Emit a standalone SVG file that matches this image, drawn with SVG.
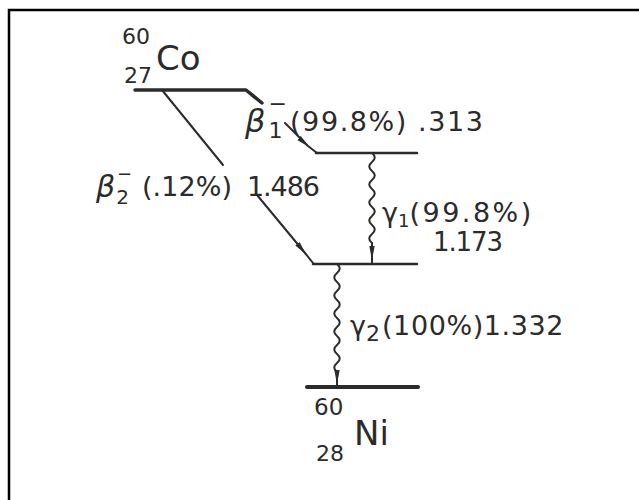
<svg xmlns="http://www.w3.org/2000/svg" width="639" height="500" viewBox="0 0 639 500">
<style>
.t{font-family:"DejaVu Sans","Liberation Sans",sans-serif;fill:#2b2b2b}
.b{font-style:italic}
.lvl{stroke:#2b2b2b;fill:none;stroke-linecap:round;stroke-linejoin:round}
.c{stroke:#2b2b2b;fill:none;stroke-width:2;stroke-linecap:round;stroke-linejoin:round}
</style>
<defs>
<marker id="ah" markerUnits="userSpaceOnUse" viewBox="0 0 14 7" refX="12" refY="3.5" markerWidth="14" markerHeight="7" orient="auto">
<path d="M0,0.8 L14,3.5 L0,6.2 z" fill="#2b2b2b"/>
</marker>
</defs>
<rect width="639" height="500" fill="#fff"/>
<path d="M9,500 L9,10 L639,10" stroke="#000" stroke-width="2.5" fill="none"/>

<g id="co60">
<path class="lvl" d="M135,90 L246,90 L262,103" stroke-width="3.5"/>
<text class="t" x="122" y="44" font-size="22">60</text>
<text class="t" x="156" y="70" font-size="34">Co</text>
<text class="t" x="124" y="83" font-size="22">27</text>
</g>

<g id="level1">
<path class="lvl" d="M316,153 L417,153" stroke-width="2.5"/>
</g>

<g id="level2">
<path class="lvl" d="M313,264 L417,264" stroke-width="2.5"/>
</g>

<g id="ni60">
<path class="lvl" d="M307,387 L418,387" stroke-width="4"/>
<text class="t" x="314" y="415" font-size="23">60</text>
<text class="t" x="354" y="445" font-size="34">Ni</text>
<text class="t" x="316" y="461" font-size="22">28</text>
</g>

<g id="connectors">
<g id="beta1">
<path class="c" d="M285,123 L308,146 L317,153" stroke-width="3" marker-mid="url(#ah)"/>
<text class="t" x="245" y="132" font-size="32"><tspan class="b">β</tspan><tspan font-size="22" dx="3" dy="6">1</tspan><tspan font-size="22" dx="-14" dy="-27">−</tspan></text>
<text class="t" x="290" y="131" font-size="27" textLength="193" lengthAdjust="spacing">(99.8%) .313</text>
</g>
<g id="beta2">
<path class="c" d="M162,90 L223,165"/>
<path class="c" d="M257,195 L305,253 L313,263" marker-mid="url(#ah)"/>
<text class="t" x="96" y="197" font-size="30"><tspan class="b">β</tspan><tspan font-size="20" dx="1" dy="7">2</tspan><tspan font-size="18" dx="-12" dy="-24">−</tspan></text>
<text class="t" x="142" y="196" font-size="27" textLength="90" lengthAdjust="spacing">(.12%)</text>
<text class="t" x="247" y="196" font-size="27" textLength="73" lengthAdjust="spacing">1.486</text>
</g>
<g id="gamma1">
<path class="c" d="M372,153 q5.5,4.5 0,9 t0,9 t0,9 t0,9 t0,9 t0,9 t0,9 t0,9 t0,9 t0,9"/>
<path class="c" d="M372,243 L372,258 L372,264" marker-mid="url(#ah)"/>
<text class="t" x="382" y="222" font-size="27">γ<tspan font-size="18" dy="5">1</tspan><tspan dy="-5" letter-spacing="2.5">(99.8%)</tspan></text>
<text class="t" x="433" y="251" font-size="26" textLength="70" lengthAdjust="spacing">1.173</text>
</g>
<g id="gamma2">
<path class="c" d="M337,264 q5.5,4.5 0,9 t0,9 t0,9 t0,9 t0,9 t0,9 t0,9 t0,9 t0,9 t0,9 t0,9 t0,9"/>
<path class="c" d="M337,372 L337,382 L337,387" marker-mid="url(#ah)"/>
<text class="t" x="350" y="335" font-size="27">γ<tspan font-size="22" dy="6">2</tspan><tspan dy="-6" dx="2" letter-spacing="0.6">(100%)1.332</tspan></text>
</g>
</g>
</svg>
